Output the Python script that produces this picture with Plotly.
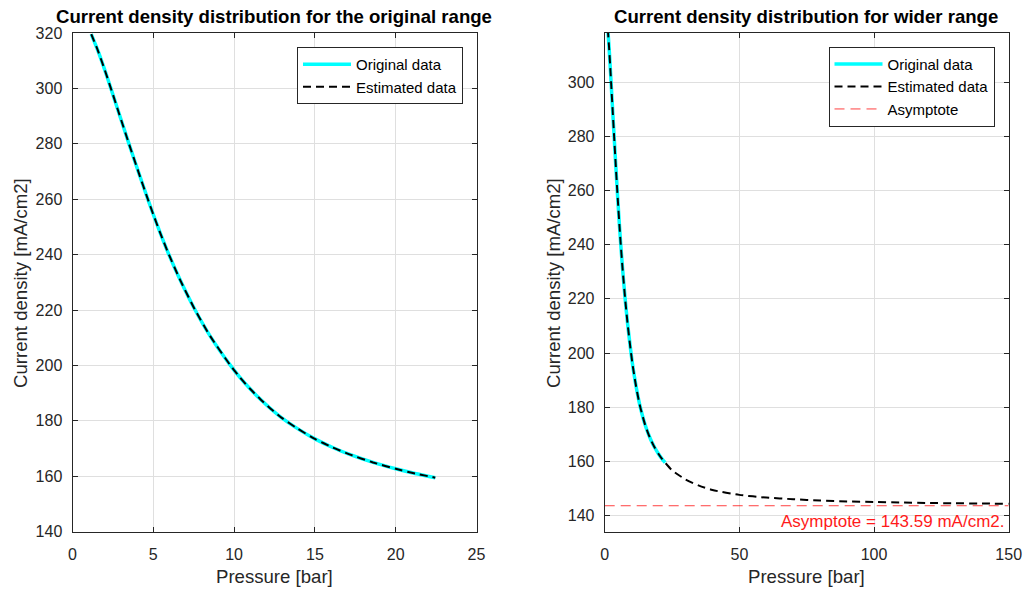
import plotly.graph_objects as go

# ---- data ----
orig_p = [1.16, 1.6, 2.0, 2.37, 2.9, 3.5, 4.1, 4.65, 5.0, 5.45, 5.93, 6.65, 7.58, 8.51,
          9.75, 10.37, 11.0, 11.61, 12.3, 12.95, 13.9, 15.0, 16.1, 17.19, 18.6, 20.0,
          21.2, 22.45]
orig_j = [319.6, 313.2, 306.6, 300.1, 290.6, 279.9, 269.5, 260.2, 254.5, 247.5, 240.5,
          231.0, 220.1, 210.7, 200.2, 195.6, 191.5, 187.9, 184.2, 181.1, 177.3, 173.5,
          170.4, 167.8, 165.0, 162.7, 161.0, 159.5]

ext_p = [25, 30, 35, 40, 50, 60, 70, 80, 90, 100, 110, 120, 130, 140, 150]
ext_j = [156.7, 153.3, 151.0, 149.4, 147.6, 146.6, 146.0, 145.5, 145.2, 145.0,
         144.8, 144.6, 144.5, 144.4, 144.3]

est_p = orig_p + ext_p
est_j = orig_j + ext_j

asym_value = 143.59
asym_p = [0, 150]
asym_j = [asym_value, asym_value]

left_xticks = [0, 5, 10, 15, 20, 25]
left_yticks = [140, 160, 180, 200, 220, 240, 260, 280, 300, 320]
right_xticks = [0, 50, 100, 150]
right_yticks = [140, 160, 180, 200, 220, 240, 260, 280, 300]

titles = ["Current density distribution for the original range",
          "Current density distribution for wider range"]
xlabel = "Pressure [bar]"
ylabel = "Current density [mA/cm2]"

FONT = "Liberation Sans, Arial, sans-serif"
AX = "#262626"
GRID = "#dfdfdf"
W, H = 1024, 590

fig = go.Figure()

cyan = dict(color="#00ffff", width=3.5, shape="spline", smoothing=0.6)
black = dict(color="#000000", width=2, dash="8px,5px", shape="spline", smoothing=0.6)

# left panel
fig.add_trace(go.Scatter(x=orig_p, y=orig_j, mode="lines", name="Original data",
                         line=cyan, xaxis="x", yaxis="y", legend="legend"))
fig.add_trace(go.Scatter(x=orig_p, y=orig_j, mode="lines", name="Estimated data",
                         line=black, xaxis="x", yaxis="y", legend="legend"))
# right panel
fig.add_trace(go.Scatter(x=orig_p, y=orig_j, mode="lines", name="Original data",
                         line=cyan, xaxis="x2", yaxis="y2", legend="legend2"))
fig.add_trace(go.Scatter(x=est_p, y=est_j, mode="lines", name="Estimated data",
                         line=black, xaxis="x2", yaxis="y2", legend="legend2"))
fig.add_trace(go.Scatter(x=asym_p, y=asym_j, mode="lines", name="Asymptote",
                         line=dict(color="rgba(255,0,0,0.75)", width=1, dash="10px,6px"),
                         xaxis="x2", yaxis="y2", legend="legend2"))

def px_x(v):
    return v / W

def px_y(v):
    return 1 - v / H

ydom = [px_y(531.7), px_y(33)]

axis_common = dict(showline=True, linecolor=AX, linewidth=1, mirror="allticks",
                   ticks="inside", ticklen=5, tickcolor=AX, showgrid=True,
                   gridcolor=GRID, gridwidth=1, zeroline=False, automargin=False,
                   tickfont=dict(family=FONT, size=16, color=AX))

legend_common = dict(bordercolor=AX, borderwidth=1, bgcolor="white",
                     font=dict(family=FONT, size=15, color="#000"),
                     xanchor="right", yanchor="top", tracegroupgap=0, itemwidth=48)

fig.update_layout(
    width=W, height=H,
    margin=dict(l=0, r=0, t=0, b=0, pad=0, autoexpand=False),
    paper_bgcolor="white", plot_bgcolor="white",
    showlegend=True,
    xaxis=dict(domain=[px_x(72.5), px_x(476.5)], range=[0, 25], tickvals=left_xticks,
               anchor="y", ticklabelstandoff=8, **axis_common),
    yaxis=dict(domain=ydom, range=[140, 320], tickvals=left_yticks, anchor="x",
               ticklabelstandoff=6, **axis_common),
    xaxis2=dict(domain=[px_x(604.7), px_x(1008.7)], range=[0, 150], tickvals=right_xticks,
                anchor="y2", ticklabelstandoff=8, **axis_common),
    yaxis2=dict(domain=ydom, range=[134.0, 318.2], tickvals=right_yticks, anchor="x2",
                ticklabelstandoff=6, **axis_common),
    legend=dict(x=px_x(463), y=px_y(47), **legend_common),
    legend2=dict(x=px_x(994.5), y=px_y(46.7), **legend_common),
)

for txt, xc in ((titles[0], 274), (titles[1], 806)):
    fig.add_annotation(text="<b>" + txt + "</b>", x=px_x(xc), y=px_y(17),
                       xref="paper", yref="paper", xanchor="center", yanchor="middle",
                       showarrow=False, font=dict(family=FONT, size=18.6, color="#000"))
for xc in (274, 806):
    fig.add_annotation(text=xlabel, x=px_x(xc), y=px_y(576), xref="paper", yref="paper",
                       xanchor="center", yanchor="middle", showarrow=False,
                       font=dict(family=FONT, size=18.6, color=AX))
for xc in (20, 553):
    fig.add_annotation(text=ylabel, x=px_x(xc), y=px_y(283), xref="paper", yref="paper",
                       xanchor="center", yanchor="middle", textangle=-90, showarrow=False,
                       font=dict(family=FONT, size=18.6, color=AX))

fig.add_annotation(text="Asymptote = %.2f mA/cm2." % asym_value, x=150, y=137.8,
                   xref="x2", yref="y2", xanchor="right", yanchor="middle", xshift=-3,
                   showarrow=False, font=dict(family=FONT, size=17, color="#ff1a1a"))

fig.write_html("out.html")
